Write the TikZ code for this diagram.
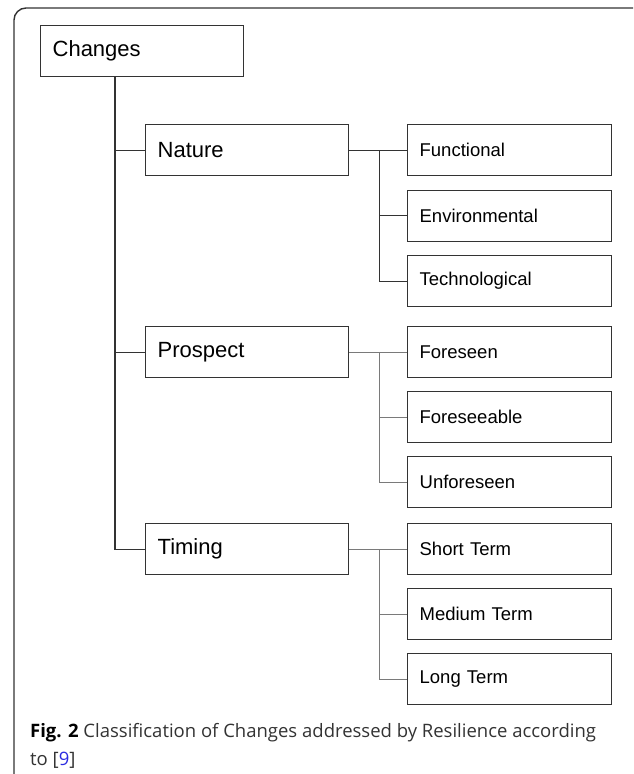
\documentclass[tikz,border=0pt]{standalone}
\usepackage{fontspec}
\setmainfont{Liberation Sans}
\newfontfamily\captionfont{Open Sans}
\usetikzlibrary{calc}
\definecolor{boxline}{HTML}{333333}
\definecolor{linkgray}{HTML}{7A7A7A}
\definecolor{refblue}{HTML}{2B2BE0}
\tikzset{
  box/.style={draw=boxline, line width=1.3pt, rectangle, anchor=north west,
    inner xsep=12pt, inner ysep=0pt, align=left, text=black},
  topbox/.style={box, minimum height=51pt, text width=179pt, font=\fontsize{22}{24}\selectfont},
  leafbox/.style={box, minimum height=51pt, text width=180pt, font=\fontsize{18.5}{20}\selectfont},
  darklink/.style={draw=boxline, line width=1.3pt},
  greylink/.style={draw=linkgray, line width=1.3pt}
}
\begin{document}
\begin{tikzpicture}[x=1pt, y=-1pt]
\useasboundingbox (0,0) rectangle (633,774);
\clip (0,0) rectangle (633,774);
\fill[white] (0,0) rectangle (633,774);
% outer panel
\draw[boxline, line width=1.4pt, rounded corners=12pt] (14,8) rectangle (680,820);

% root and first level
\node[topbox] (changes) at (40,25) {Changes};
\node[topbox] (nature) at (145,124) {Nature};
\node[topbox] (prospect) at (145,326) {Prospect};
\node[topbox] (timing) at (145,523) {Timing};

% leaves
\node[leafbox] (functional) at (407,124) {Functional};
\node[leafbox] (environmental) at (407,189.5) {Environmental};
\node[leafbox] (technological) at (407,255) {Technological};
\node[leafbox] (foreseen) at (407,326) {Foreseen};
\node[leafbox] (foreseeable) at (407,391) {Foreseeable};
\node[leafbox] (unforeseen) at (407,456) {Unforeseen};
\node[leafbox] (shortterm) at (407,523) {Short Term};
\node[leafbox] (mediumterm) at (407,588) {Medium Term};
\node[leafbox] (longterm) at (407,653) {Long Term};

% trunk from the root
\coordinate (trunk) at ($(changes.south west)+(75,0)$);
\draw[darklink] (trunk) |- (timing.west);
\draw[darklink] (trunk |- nature.west) -- (nature.west);
\draw[darklink] (trunk |- prospect.west) -- (prospect.west);

% Nature branch
\coordinate (nb) at ($(nature.east)+(30,0)$);
\draw[darklink] (nature.east) -- (functional.west);
\draw[darklink] (nb) |- (technological.west);
\draw[darklink] (nb |- environmental.west) -- (environmental.west);

% Prospect branch
\coordinate (pb) at ($(prospect.east)+(30,0)$);
\draw[greylink] (prospect.east) -- (foreseen.west);
\draw[greylink] (pb) |- (unforeseen.west);
\draw[greylink] (pb |- foreseeable.west) -- (foreseeable.west);

% Timing branch
\coordinate (tb) at ($(timing.east)+(30,0)$);
\draw[greylink] (timing.east) -- (shortterm.west);
\draw[greylink] (tb) |- (longterm.west);
\draw[greylink] (tb |- mediumterm.west) -- (mediumterm.west);

% caption (anchored on the baseline of its last line)
\node[anchor=base west, inner sep=0pt, align=left, text=black!80,
  font=\captionfont\fontsize{18.5}{28}\selectfont] (caption) at (30,765)
  {\textcolor{black}{\textbf{Fig. 2}} Classification of Changes addressed by Resilience according\\
   to [\textcolor{refblue}{9}]};
\end{tikzpicture}
\end{document}
